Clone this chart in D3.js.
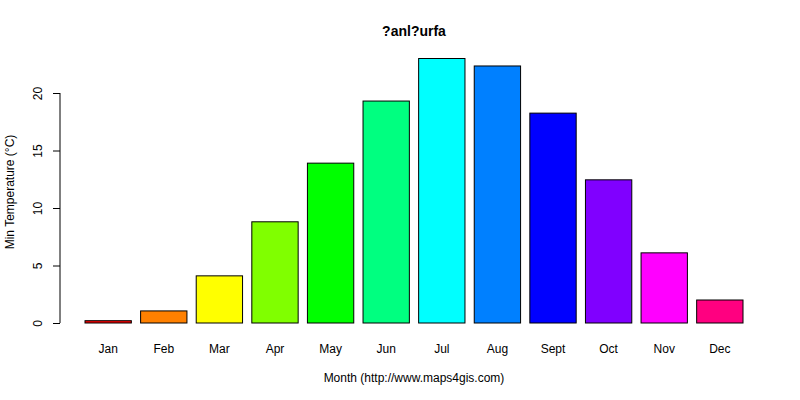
<!DOCTYPE html>
<html><head><meta charset="utf-8">
<script src="https://cdn.jsdelivr.net/npm/d3@7"></script>
<style>body{margin:0;background:#fff}text{font-family:"Liberation Sans",Arial,sans-serif}</style>
</head><body>
<svg id="c" width="800" height="400"></svg>
<script>
const months = ["Jan","Feb","Mar","Apr","May","Jun","Jul","Aug","Sept","Oct","Nov","Dec"];
const values = [0.2,1.05,4.1,8.8,13.9,19.3,23.0,22.35,18.25,12.45,6.1,2.0];
const colors = ["#FF0000","#FF8000","#FFFF00","#80FF00","#00FF00","#00FF80","#00FFFF","#0080FF","#0000FF","#8000FF","#FF00FF","#FF0080"];
const yTicks = [0,5,10,15,20];
const svg = d3.select("#c");
const x = d3.scaleBand().domain(months).range([85,743]).paddingInner(1/6).paddingOuter(0);
const y = d3.scaleLinear().domain([0,20]).range([323,93]);
svg.selectAll("rect").data(values).enter().append("rect")
 .attr("x",(d,i)=>x(months[i])).attr("width",x.bandwidth())
 .attr("y",d=>y(d)).attr("height",d=>y(0)-y(d))
 .attr("fill",(d,i)=>colors[i]).attr("stroke","#000").attr("stroke-width",1);
const ya = svg.append("g").attr("transform","translate(60,0)")
 .call(d3.axisLeft(y).tickValues(yTicks).tickSize(7).tickPadding(4));
ya.select(".domain").attr("d","M0,"+y(0)+"V"+y(20));
ya.selectAll("text").attr("font-size",12).attr("fill","#000").attr("font-family","Liberation Sans")
 .attr("transform",function(){const t=d3.select(this.parentNode).attr("transform");return null;})
 .each(function(){d3.select(this).attr("x",null).attr("dy",null).attr("text-anchor","middle")
   .attr("transform","translate(-18,0) rotate(-90)");});
svg.selectAll(".mlab").data(months).enter().append("text")
 .attr("x",d=>x(d)+x.bandwidth()/2).attr("y",353).attr("text-anchor","middle")
 .attr("font-size",12).text(d=>d);
svg.append("text").attr("x",414).attr("y",36).attr("text-anchor","middle")
 .attr("font-size",14).attr("font-weight","bold").text("?anl?urfa");
svg.append("text").attr("x",414).attr("y",382).attr("text-anchor","middle")
 .attr("font-size",12).text("Month (http://www.maps4gis.com)");
svg.append("text").attr("transform","translate(14,192) rotate(-90)").attr("text-anchor","middle")
 .attr("font-size",12).text("Min Temperature (°C)");
</script></body></html>
